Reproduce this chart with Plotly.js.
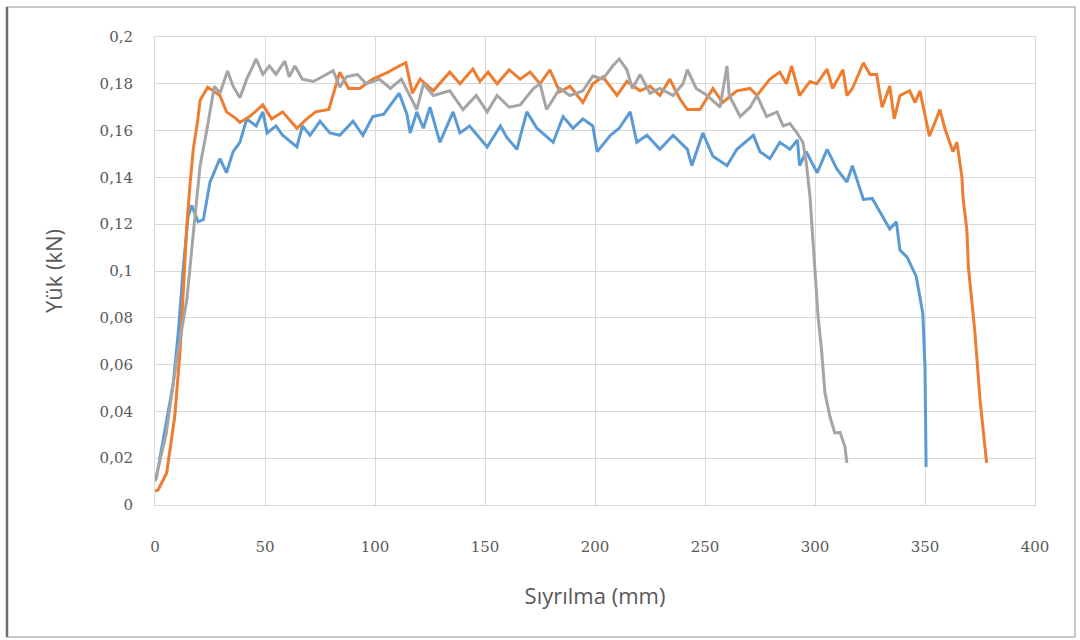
<!DOCTYPE html>
<html>
<head>
<meta charset="utf-8">
<script src="https://cdn.plot.ly/plotly-3.0.1.min.js"></script>
<style>
html,body{margin:0;padding:0;background:#fff;}
#chart{width:1080px;height:640px;}
</style>
</head>
<body>
<div id="chart"></div>
<script>
// Data: [Sıyrılma (mm), Yük (kN)]
const blueData = [[0.5,0.011],[3.8,0.028],[8.3,0.052],[10.6,0.074],[12.9,0.102],[15,0.123],[16.7,0.128],[19.6,0.121],[22,0.122],[25,0.138],[29.5,0.148],[32.5,0.142],[35.5,0.151],[38.6,0.155],[41.7,0.165],[46,0.162],[49,0.168],[51,0.159],[55,0.162],[58,0.158],[64.5,0.153],[67,0.162],[70.5,0.158],[75,0.164],[79.5,0.159],[84,0.158],[90,0.164],[94.5,0.158],[99,0.166],[104,0.167],[108,0.172],[111,0.176],[114.5,0.167],[116,0.159],[119,0.168],[122,0.161],[125,0.170],[129.5,0.155],[135.5,0.168],[138.6,0.159],[143,0.162],[151,0.153],[157,0.162],[160,0.157],[164.5,0.152],[169,0.168],[173.6,0.161],[181,0.155],[185.5,0.166],[190,0.161],[194.5,0.165],[199,0.162],[201,0.151],[207,0.158],[211,0.161],[216,0.168],[219,0.155],[223.6,0.158],[229.5,0.152],[235.5,0.158],[242,0.152],[244,0.145],[249,0.159],[253.6,0.149],[260,0.145],[264.5,0.152],[272,0.158],[275,0.151],[279.5,0.148],[284,0.155],[288.6,0.152],[292,0.156],[293,0.145],[296,0.151],[301,0.142],[305.5,0.152],[310,0.1435],[314.5,0.138],[317,0.145],[322,0.1306],[326,0.131],[331,0.123],[334,0.118],[337,0.121],[338.6,0.109],[341.8,0.106],[346,0.0977],[349,0.082],[350,0.059],[350.5,0.0163]];

const orangeData = [[0,0.006],[1.4,0.0064],[5.3,0.0137],[9,0.038],[11.4,0.066],[12.9,0.095],[14.5,0.12],[16,0.138],[17.4,0.152],[19.5,0.165],[20.5,0.173],[24,0.1786],[29.5,0.175],[32.5,0.168],[37,0.165],[38.6,0.1635],[43,0.166],[49,0.171],[53,0.165],[58,0.168],[64.5,0.161],[69,0.165],[73,0.168],[79,0.169],[82,0.178],[84,0.185],[88,0.178],[93,0.178],[99,0.182],[106,0.185],[111,0.1876],[114,0.189],[117,0.176],[120.5,0.182],[126.5,0.177],[134,0.185],[138.6,0.180],[144.5,0.1863],[147.7,0.181],[151.4,0.185],[155.5,0.180],[161,0.186],[166,0.182],[170.5,0.185],[175,0.180],[179.5,0.186],[184,0.1765],[188.6,0.179],[194.5,0.172],[199,0.180],[203.6,0.183],[210,0.175],[214.5,0.181],[220.5,0.177],[225,0.179],[229.5,0.175],[234,0.182],[238.6,0.1735],[242,0.169],[247.7,0.169],[253.6,0.178],[258,0.172],[264.5,0.177],[270.5,0.178],[273.6,0.175],[279.5,0.182],[284,0.185],[287,0.180],[289.4,0.1876],[293,0.175],[297.7,0.181],[300.8,0.180],[305.5,0.1863],[308,0.178],[312.7,0.186],[314.5,0.175],[317,0.178],[322,0.189],[325,0.184],[328,0.184],[330.5,0.170],[334,0.179],[336,0.165],[338.6,0.175],[343,0.177],[345.5,0.172],[347.7,0.177],[352,0.1576],[356.8,0.169],[359,0.161],[362.7,0.151],[364.5,0.155],[366.8,0.140],[367.3,0.131],[369,0.118],[369.7,0.102],[372.7,0.0737],[375,0.045],[378,0.018]];

const grayData = [[0,0.01],[5,0.03],[10,0.063],[14.5,0.088],[17.4,0.116],[20.5,0.145],[23.5,0.160],[27,0.179],[29.5,0.176],[33,0.1855],[35.5,0.179],[38.6,0.174],[41.7,0.182],[46,0.1906],[49,0.184],[52,0.1876],[55,0.184],[59,0.1897],[61,0.183],[63.6,0.1876],[67,0.182],[72,0.181],[76,0.183],[81,0.1856],[84,0.1786],[87,0.183],[92,0.184],[96,0.18],[102,0.182],[107,0.178],[112,0.182],[119,0.169],[122,0.180],[126.5,0.175],[134,0.177],[140,0.169],[146,0.175],[151,0.168],[155.5,0.175],[161,0.17],[166,0.171],[172,0.178],[175,0.180],[178,0.169],[184,0.178],[188.6,0.175],[194.5,0.177],[199,0.1833],[203.6,0.182],[208,0.1876],[211,0.1906],[214.5,0.186],[217,0.178],[220.5,0.184],[225,0.176],[229.5,0.178],[235.5,0.175],[240,0.180],[242,0.186],[246,0.178],[251,0.175],[256.8,0.170],[260,0.1876],[261,0.175],[266,0.166],[270.5,0.170],[273.6,0.175],[278,0.166],[282.7,0.168],[285.5,0.162],[288.6,0.163],[291.8,0.159],[294.5,0.155],[296,0.1465],[297.7,0.132],[298.6,0.12],[300,0.102],[301.4,0.0805],[303,0.066],[304.5,0.048],[306.8,0.0377],[309,0.0308],[311.4,0.031],[313.6,0.025],[314.5,0.018]];

const seriesColors = ['#5b9bd5', '#ed7d31', '#a5a5a5'];
const xTitle = 'Sıyrılma (mm)';
const yTitle = 'Yük (kN)';

function mk(data, color) {
  return {
    type: 'scatter', mode: 'lines',
    x: data.map(p => p[0]), y: data.map(p => p[1]),
    line: {color: color, width: 3},
    hoverinfo: 'skip', showlegend: false
  };
}
const traces = [mk(blueData, seriesColors[0]), mk(orangeData, seriesColors[1]), mk(grayData, seriesColors[2])];

const L = 155, R = 45, T = 37, B = 135, W = 1080, H = 640;
const pw = W - L - R, ph = H - T - B;
function px(v) { return (v - L) / pw; }
function py(v) { return (H - B - v) / ph; }

const layout = {
  width: W, height: H,
  margin: {l: L, r: R, t: T, b: B},
  paper_bgcolor: '#ffffff', plot_bgcolor: '#ffffff',
  separators: ', ',
  showlegend: false,
  xaxis: {
    range: [0, 400], dtick: 50, tick0: 0,
    showgrid: true, gridcolor: '#d9d9d9', gridwidth: 1,
    zeroline: false, showline: true, linecolor: '#d9d9d9', mirror: true,
    ticks: '', ticklabelstandoff: 28,
    tickfont: {family: 'DejaVu Serif', size: 15, color: '#595959'},
    title: {text: xTitle, standoff: 33, font: {family: 'Open Sans', size: 22, color: '#595959'}}
  },
  yaxis: {
    range: [0, 0.2], dtick: 0.02, tick0: 0,
    showgrid: true, gridcolor: '#d9d9d9', gridwidth: 1,
    zeroline: false, showline: true, linecolor: '#d9d9d9', mirror: true,
    ticks: '', ticklabelstandoff: 18,
    tickfont: {family: 'DejaVu Serif', size: 15, color: '#595959'},
    title: {text: yTitle, standoff: 30, font: {family: 'Open Sans', size: 22, color: '#595959'}}
  },
  shapes: [
    {type: 'rect', xref: 'paper', yref: 'paper', x0: px(7), x1: px(1075), y0: py(637), y1: py(7),
     line: {color: '#b8b8b8', width: 1.5}, fillcolor: 'rgba(0,0,0,0)', layer: 'below'},
    {type: 'line', xref: 'paper', yref: 'paper', x0: px(7), x1: px(7), y0: py(637), y1: py(7),
     line: {color: '#6e6e6e', width: 2.5}}
  ]
};

Plotly.newPlot('chart', traces, layout, {displayModeBar: false, staticPlot: true});
</script>
</body>
</html>
